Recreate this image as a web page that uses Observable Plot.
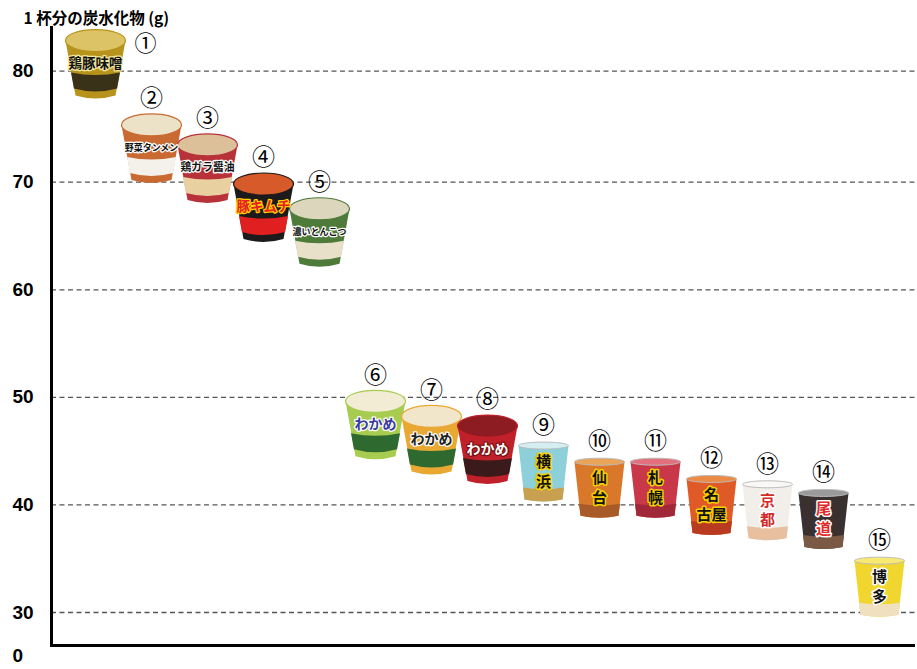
<!DOCTYPE html>
<html><head><meta charset="utf-8">
<script src="https://cdn.jsdelivr.net/npm/d3@7"></script>
<script src="https://cdn.jsdelivr.net/npm/@observablehq/plot@0.6"></script>
<style>
body{margin:0;background:#fff;}
#chart svg{display:block}
</style></head><body><div id="chart"></div>
<script>
// ---- data ----
const title = "1 杯分の炭水化物 (g)";
const ids = [1,2,3,4,5,6,7,8,9,10,11,12,13,14,15];
const circled = ["①","②","③","④","⑤","⑥","⑦","⑧","⑨","⑩","⑪","⑫","⑬","⑭","⑮"];
const names = ["鶏豚味噌","野菜タンメン","鶏ガラ醤油","豚キムチ","濃いとんこつ","わかめ","わかめ","わかめ","横\n浜","仙\n台","札\n幌","名\n古屋","京\n都","尾\n道","博\n多"];
const carbs = [80.6, 73.0, 71.2, 67.6, 65.3, 47.4, 46.0, 45.1, 43.1, 41.6, 41.6, 40.0, 39.5, 38.7, 32.4];
const kinds = ["bowl","bowl","bowl","bowl","bowl","bowl","bowl","bowl","cup","cup","cup","cup","cup","cup","cup"];
const yTicks = [0, 30, 40, 50, 60, 70, 80];

// ---- palette (styles, kept apart from data) ----
const bodyColors = ["#b8931c","#c96a32","#b8323a","#1c1a1a","#4e7a3a","#a8cc50","#e8a832","#c0202a","#8ed0da","#d9782a","#c83848","#e05a28","#f2eeea","#3a3030","#f2d630"];
const lidColors  = ["#dcc466","#ece2c8","#dcc09a","#d65a2a","#dcd6bc","#f2ecd4","#f2e6ca","#8c1c22","#d6eef2","#eaa458","#e4707e","#ec8a48","#faf8f6","#9a9a9a","#f8ea70"];
const bandColors = ["#3a3218","#f4f0ea","#e8d0a0","#e02020","#e8e0c8","#2e6a30","#2e6a30","#3a1a1a","#c8a050","#a85a28","#a02838","#b83a20","#e8c0a0","#7a5a44","#f0e0c0"];
const textColors = ["#111","#111","#111","#e82020","#111","#3a3aa0","#222","#fff","#111","#111","#111","#111","#d42a2a","#e02a2a","#111"];
const haloColors = ["#f2e6a0","#fff","#fff","#ffd000","#fff","#fff","#fff","#7a1010","#f5d000","#f5d000","#f5d000","#f5d000","#fff","#fff","#fff"];

const rows = ids.map((id, i) => ({
  id, mark: circled[i], name: names[i], carbs: carbs[i], kind: kinds[i],
  body: bodyColors[i], lid: lidColors[i], band: bandColors[i], tcol: textColors[i], halo: haloColors[i]
}));
const bowls = rows.filter(d => d.kind === "bowl");
const cups = rows.filter(d => d.kind === "cup");

// ---- cup symbols ----
function ellipse(ctx, cx, cy, rx, ry) {
  const k = 0.5523;
  ctx.moveTo(cx + rx, cy);
  ctx.bezierCurveTo(cx + rx, cy + ry * k, cx + rx * k, cy + ry, cx, cy + ry);
  ctx.bezierCurveTo(cx - rx * k, cy + ry, cx - rx, cy + ry * k, cx - rx, cy);
  ctx.bezierCurveTo(cx - rx, cy - ry * k, cx - rx * k, cy - ry, cx, cy - ry);
  ctx.bezierCurveTo(cx + rx * k, cy - ry, cx + rx, cy - ry * k, cx + rx, cy);
  ctx.closePath();
}
const bowlBody = {draw(ctx) { ctx.moveTo(-30,-24); ctx.lineTo(30,-24); ctx.lineTo(20,31); ctx.quadraticCurveTo(0,37,-20,31); ctx.closePath(); }};
const bowlBand = {draw(ctx) { ctx.moveTo(-24.5,8); ctx.quadraticCurveTo(0,13,24.5,8); ctx.lineTo(21.6,24); ctx.quadraticCurveTo(0,30,-21.6,24); ctx.closePath(); }};
const bowlLid  = {draw(ctx) { ellipse(ctx, 0, -24, 30, 11); }};
const cupBody  = {draw(ctx) { ctx.moveTo(-25,-26); ctx.lineTo(25,-26); ctx.lineTo(19,28); ctx.quadraticCurveTo(0,32,-19,28); ctx.closePath(); }};
const cupBand  = {draw(ctx) { ctx.moveTo(-20.5,16); ctx.quadraticCurveTo(0,19,20.5,16); ctx.lineTo(19,28); ctx.quadraticCurveTo(0,32,-19,28); ctx.closePath(); }};
const cupLid   = {draw(ctx) { ellipse(ctx, 0, -26, 25, 3.5); }};

const chart = Plot.plot({
  width: 917, height: 669,
  marginTop: 27, marginBottom: 24, marginLeft: 51, marginRight: 2,
  x: {type: "point", domain: ids, range: [91.5, 882.5], padding: 0, axis: null},
  y: {type: "linear", domain: [0, 30, 70, 80, 83.95], range: [645, 612, 181.7, 70.7, 27], axis: null},
  color: {type: "identity"},
  style: {fontFamily: "'Noto Sans CJK JP', 'Noto Sans', sans-serif", background: "#fff", overflow: "visible"},
  marks: [
    Plot.ruleY(yTicks.filter(v => v > 0), {stroke: "#555", strokeDasharray: "5,3.5", strokeWidth: 1.3}),
    Plot.ruleY([0], {stroke: "#000", strokeWidth: 3}),
    Plot.frame({anchor: "left", stroke: "#000", strokeWidth: 3}),
    Plot.text(yTicks.filter(v => v > 0), {y: d => d, text: d => String(d), frameAnchor: "left", textAnchor: "start", dx: -39,
      fontSize: 19, fontWeight: "bold", fontFamily: "'Liberation Sans', Arial, sans-serif", fill: "#000"}),
    Plot.text(yTicks.filter(v => v === 0), {y: d => d, text: d => String(d), frameAnchor: "left", textAnchor: "start", dx: -39, dy: 10,
      fontSize: 19, fontWeight: "bold", fontFamily: "'Liberation Sans', Arial, sans-serif", fill: "#000"}),
    Plot.text([title], {frameAnchor: "top-left", textAnchor: "start", dx: -28, dy: -15, fontSize: 15.5, fontWeight: "bold", fill: "#000"}),
    // bowls
    Plot.dot(bowls, {x: "id", y: "carbs", symbol: bowlBody, fill: "body", r: 10}),
    Plot.dot(bowls, {x: "id", y: "carbs", symbol: bowlBand, fill: "band", r: 10}),
    Plot.dot(bowls, {x: "id", y: "carbs", symbol: bowlLid, fill: "lid", stroke: "body", strokeWidth: 1.2, r: 10}),
    Plot.text(bowls, {x: "id", y: "carbs", text: "name", dy: -1, fill: "tcol", stroke: "halo", strokeWidth: 2.5,
      fontWeight: "bold", fontSize: d => Math.min(14, 54 / d.name.length)}),
    // tall cups
    Plot.dot(cups, {x: "id", y: "carbs", symbol: cupBody, fill: "body", r: 10}),
    Plot.dot(cups, {x: "id", y: "carbs", symbol: cupBand, fill: "band", r: 10}),
    Plot.dot(cups, {x: "id", y: "carbs", symbol: cupLid, fill: "lid", stroke: "#bbb", strokeWidth: 1, r: 10}),
    Plot.text(cups, {x: "id", y: "carbs", text: "name", dy: -1, fill: "tcol", stroke: "halo", strokeWidth: 3,
      fontWeight: "bold", fontSize: 15, lineHeight: 1.3}),
    // circled numbers
    Plot.text(rows.slice(0, 1), {x: "id", y: "carbs", text: "mark", dx: 50, dy: -21, fontSize: 22, fill: "#000"}),
    Plot.text(rows.slice(1, 8), {x: "id", y: "carbs", text: "mark", dy: -50, fontSize: 23, fill: "#000"}),
    Plot.text(rows.slice(8), {x: "id", y: "carbs", text: "mark", dy: -46, fontSize: 23, fill: "#000"})
  ]
});
document.getElementById("chart").append(chart);
</script>
</body></html>
